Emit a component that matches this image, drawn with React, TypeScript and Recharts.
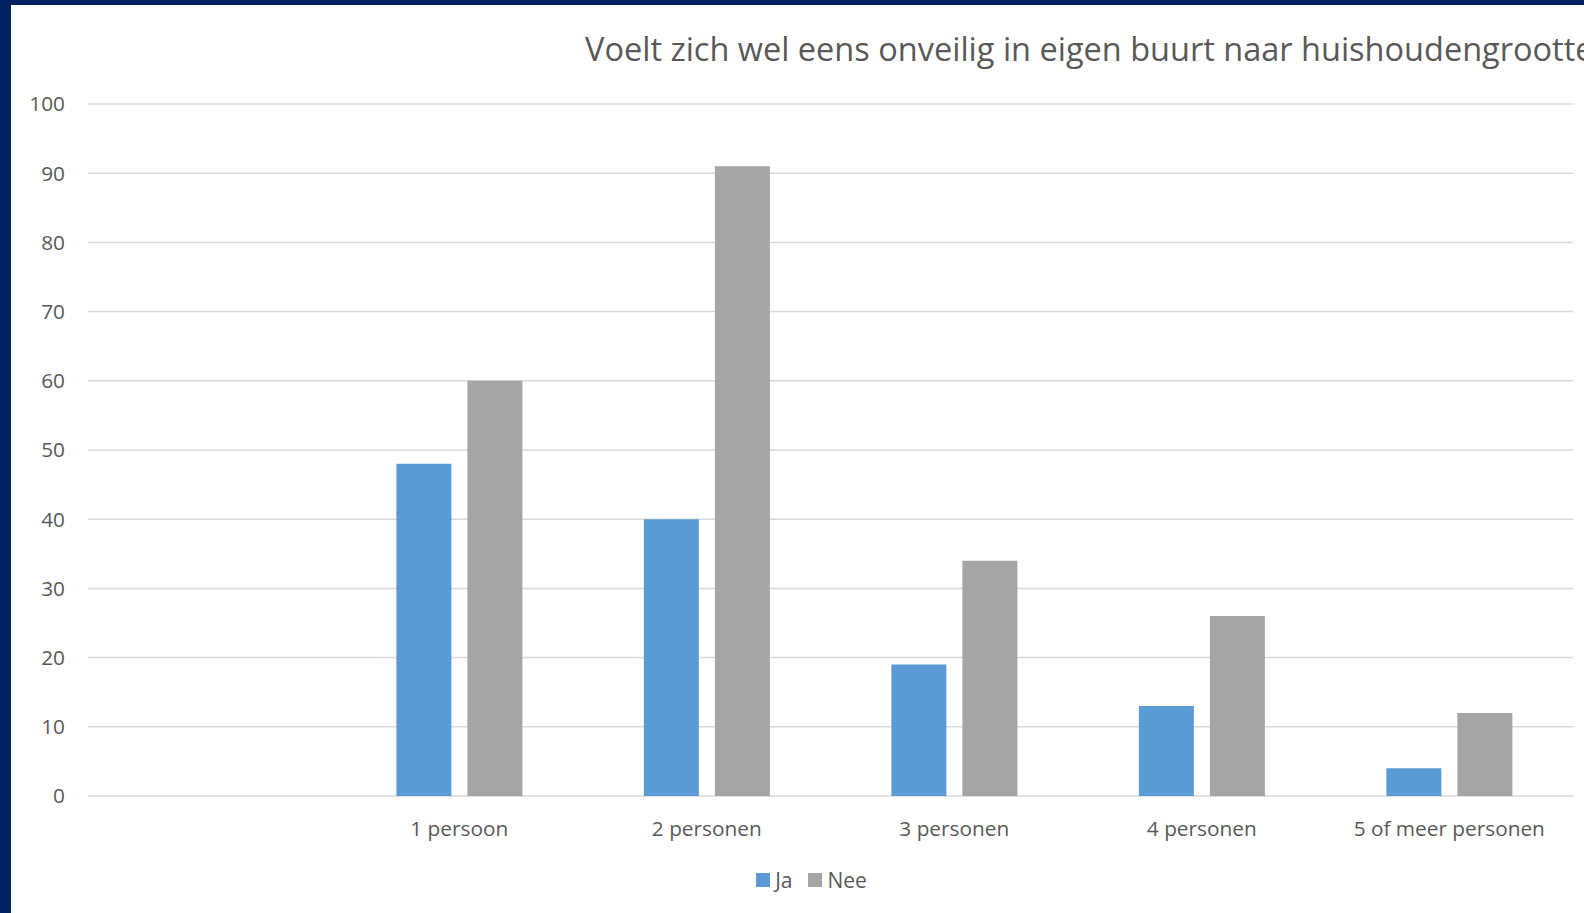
import { Bar, BarChart, CartesianGrid, Legend, XAxis, YAxis } from "recharts";

const categories = ["", "1 persoon", "2 personen", "3 personen", "4 personen", "5 of meer personen"];
const jaValues = [null, 48, 40, 19, 13, 4];
const neeValues = [null, 60, 91, 34, 26, 12];
const yTicks = [0, 10, 20, 30, 40, 50, 60, 70, 80, 90, 100];
const title = "Voelt zich wel eens onveilig in eigen buurt naar huishoudengrootte";

const NAVY = "#002060";
const BLUE = "#5B9BD5";
const GREY = "#A5A5A5";
const TEXT = "#595959";
const GRID = "#D9D9D9";
const FONT = "'Open Sans', sans-serif";

const data = categories.map((name, i) => ({
  name,
  Ja: jaValues[i],
  Nee: neeValues[i],
}));

const series = [
  { key: "Ja", color: BLUE },
  { key: "Nee", color: GREY },
];

function LegendContent() {
  return (
    <div
      style={{
        display: "flex",
        justifyContent: "center",
        gap: 16,
        paddingLeft: 39,
        fontFamily: FONT,
        fontSize: 21,
        color: TEXT,
      }}
    >
      {series.map((s) => (
        <div key={s.key} style={{ display: "flex", alignItems: "center", gap: 5 }}>
          <span style={{ width: 14, height: 14, background: s.color, display: "inline-block" }} />
          <span>{s.key}</span>
        </div>
      ))}
    </div>
  );
}

export default function App() {
  return (
    <div
      style={{
        position: "absolute",
        left: 0,
        top: 0,
        width: 1584,
        height: 913,
        background: NAVY,
        overflow: "hidden",
      }}
    >
      <div
        style={{
          position: "absolute",
          left: 11,
          top: 5,
          width: 1573,
          height: 908,
          background: "#fff",
          overflow: "hidden",
        }}
      >
        <BarChart
          width={1573}
          height={908}
          data={data}
          margin={{ top: 99, right: 11, bottom: 10, left: 0 }}
          barCategoryGap="24.6%"
          barGap={16}
        >
          <text x={574} y={56} fill={TEXT} fontFamily={FONT} fontSize={32.5}>
            {title}
          </text>
          <CartesianGrid vertical={false} stroke={GRID} strokeWidth={1.5} />
          <XAxis
            dataKey="name"
            axisLine={false}
            tickLine={false}
            tickSize={6}
            tickMargin={19}
            height={70}
            interval={0}
            tick={{ fill: TEXT, fontFamily: FONT, fontSize: 20.8 }}
          />
          <YAxis
            domain={[0, 100]}
            ticks={yTicks}
            axisLine={false}
            tickLine={false}
            tickSize={6}
            tickMargin={17}
            width={77}
            tick={{ fill: TEXT, fontFamily: FONT, fontSize: 20.8 }}
          />
          <Legend verticalAlign="bottom" height={37} content={<LegendContent />} />
          {series.map((s) => (
            <Bar key={s.key} dataKey={s.key} fill={s.color} isAnimationActive={false} />
          ))}
        </BarChart>
      </div>
    </div>
  );
}
